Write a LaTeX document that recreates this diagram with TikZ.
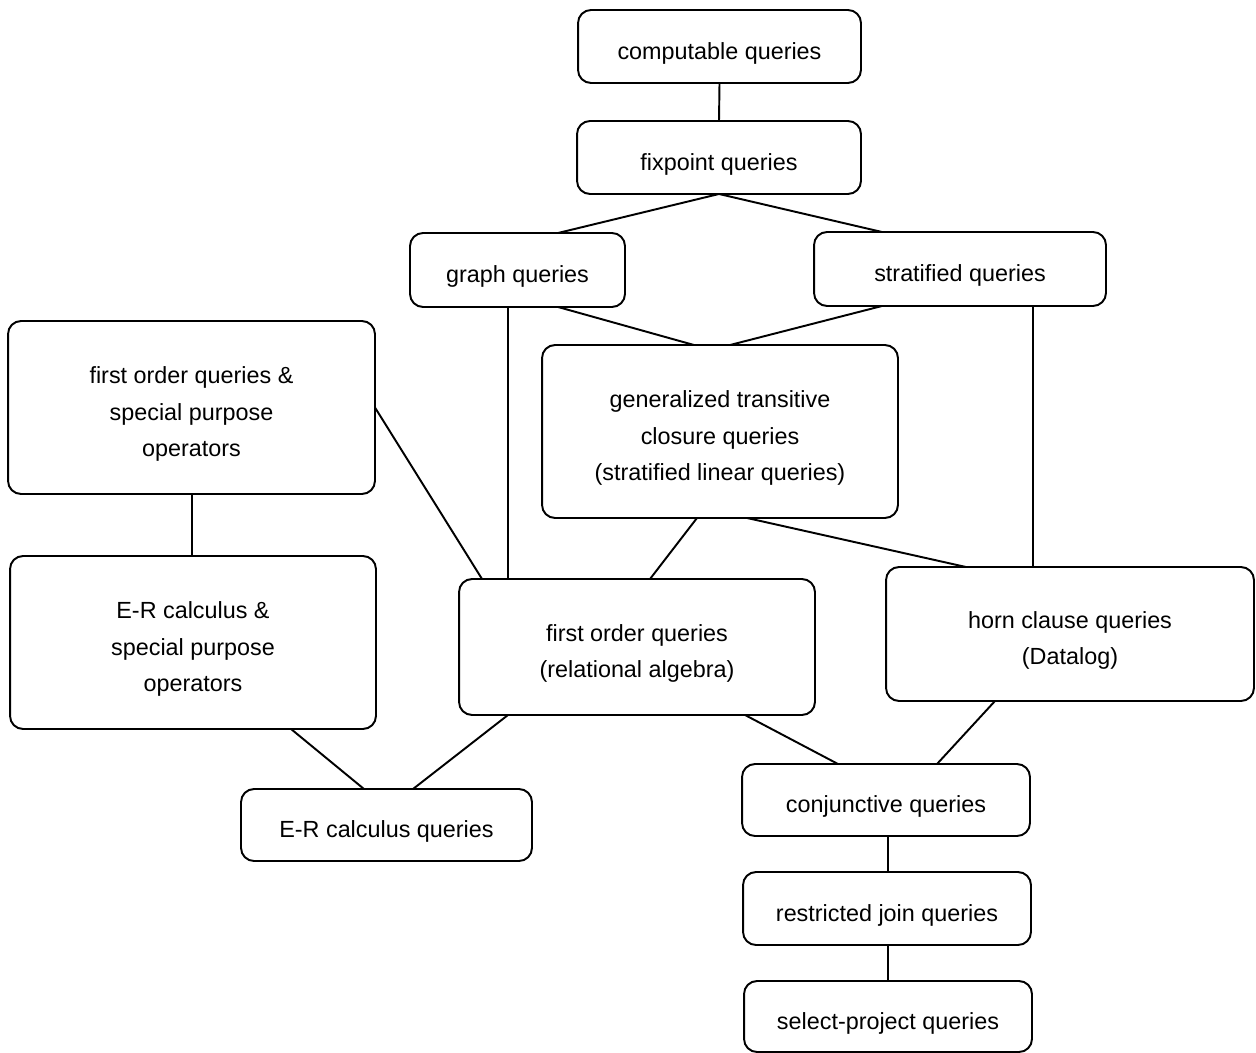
\documentclass[tikz,border=0pt]{standalone}
\usepackage{fontspec}
\setmainfont{Liberation Sans}
\usetikzlibrary{calc}
% box (#1) centred at #2, #3 x #4, with its caption set slightly below centre
\newcommand\qnode[5]{%
  \node[qbox, minimum width=#3, minimum height=#4] (#1) at #2 {};
  \node[qtext] (#1-t) at ([yshift=-0.13cm]#1.center) {#5};}
\begin{document}
\begin{tikzpicture}[x=0.02cm, y=-0.02cm,
  qbox/.style={draw, rounded corners=0.26cm, line width=1.1pt, inner sep=0pt, outer sep=0pt},
  qtext/.style={inner sep=0pt, align=center, font=\fontsize{13.3}{21}\selectfont},
  link/.style={line width=1.1pt}]
\useasboundingbox (0,0) rectangle (1256,1053);

% query classes
\qnode{comp}{(719.5,46.5)}{5.66cm}{1.46cm}{computable queries}
\qnode{fix}{(719,157.5)}{5.68cm}{1.46cm}{fixpoint queries}
\qnode{graph}{(517.5,270)}{4.30cm}{1.48cm}{graph queries}
\qnode{strat}{(960,269)}{5.84cm}{1.48cm}{stratified queries}
\qnode{fos}{(191.5,407.5)}{7.34cm}{3.46cm}{first order queries \&\\special purpose\\operators}
\qnode{gtc}{(720,431.5)}{7.12cm}{3.46cm}{generalized transitive\\closure queries\\(stratified linear queries)}
\qnode{ers}{(193,642.5)}{7.32cm}{3.46cm}{E-R calculus \&\\special purpose\\operators}
\qnode{fo}{(637,647)}{7.12cm}{2.72cm}{first order queries\\(relational algebra)}
\qnode{horn}{(1070,634)}{7.36cm}{2.68cm}{horn clause queries\\(Datalog)}
\qnode{erq}{(386.5,825)}{5.82cm}{1.44cm}{E-R calculus queries}
\qnode{conj}{(886,800)}{5.76cm}{1.44cm}{conjunctive queries}
\qnode{rj}{(887,908.5)}{5.76cm}{1.46cm}{restricted join queries}
\qnode{sp}{(888,1016.5)}{5.76cm}{1.42cm}{select-project queries}

% containment links
\draw[link] (comp.south) -- (fix.north);
\draw[link] (fix.south) -- ($(graph.north)+(40.5,0)$);
\draw[link] (fix.south) -- ($(strat.north)+(-78,0)$);
\draw[link] ($(graph.south)+(40.5,0)$) -- ($(gtc.north)+(-26,0)$);
\draw[link] ($(strat.south)+(-78,0)$) -- ($(gtc.north)+(10,0)$);
\draw[link] ($(graph.south)+(-9.5,0)$) -- ($(fo.north)+(-129,0)$);
\draw[link] ($(strat.south)+(73,0)$) -- ($(horn.north)+(-37,0)$);
\draw[link] (fos.east) -- ($(fo.north west)+(23,0)$);
\draw[link] ($(fos.south)+(0.5,0)$) -- ($(ers.north)+(-1,0)$);
\draw[link] ($(gtc.south)+(-23,0)$) -- ($(fo.north)+(13,0)$);
\draw[link] ($(gtc.south)+(27,0)$) -- ($(horn.north)+(-104,0)$);
\draw[link] ($(ers.south)+(98,0)$) -- ($(erq.north)+(-22.5,0)$);
\draw[link] ($(fo.south)+(-129,0)$) -- ($(erq.north)+(26.5,0)$);
\draw[link] ($(fo.south)+(108,0)$) -- ($(conj.north)+(-48,0)$);
\draw[link] ($(horn.south)+(-75,0)$) -- ($(conj.north)+(51,0)$);
\draw[link] ($(conj.south)+(2,0)$) -- ($(rj.north)+(1,0)$);
\draw[link] ($(rj.south)+(1,0)$) -- (sp.north);
\end{tikzpicture}
\end{document}
